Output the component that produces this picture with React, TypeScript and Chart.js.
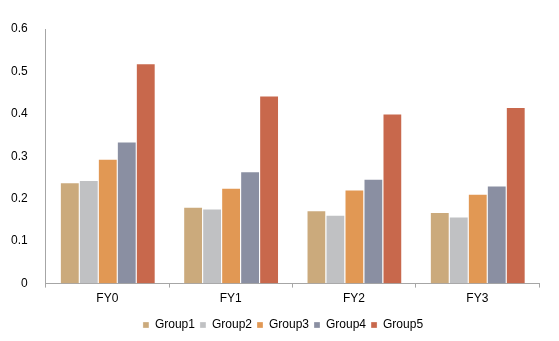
import React, { useEffect, useRef } from "react";
import { Chart, registerables } from "chart.js";

Chart.register(...registerables);

const categories = ["FY0", "FY1", "FY2", "FY3"];
const group1 = [0.239, 0.181, 0.173, 0.169];
const group2 = [0.244, 0.177, 0.162, 0.158];
const group3 = [0.294, 0.226, 0.222, 0.212];
const group4 = [0.335, 0.265, 0.247, 0.231];
const group5 = [0.519, 0.443, 0.401, 0.416];
const seriesNames = ["Group1", "Group2", "Group3", "Group4", "Group5"];
const colors = ["#CBAA7C", "#C0C1C3", "#E19854", "#8A8FA2", "#C8684C"];

const legendShift = {
  id: "legendShift",
  afterLayout(chart: any) {
    const l = chart.legend;
    if (l) {
      l.left += 13;
      l.right += 13;
    }
  },
};

export default function App() {
  const ref = useRef<HTMLCanvasElement>(null);
  useEffect(() => {
    const values = [group1, group2, group3, group4, group5];
    const chart = new Chart(ref.current!, {
      type: "bar",
      data: {
        labels: categories,
        datasets: values.map((v, i) => ({
          label: seriesNames[i],
          data: v,
          backgroundColor: colors[i],
          borderColor: "rgba(255,255,255,0.6)",
          borderWidth: { left: 1, right: 0, top: 1, bottom: 0 } as any,
          categoryPercentage: 0.77,
          barPercentage: 1.0,
        })),
      },
      plugins: [legendShift],
      options: {
        animation: false,
        responsive: false,
        maintainAspectRatio: false,
        layout: { padding: { top: 29, right: 20, left: 1, bottom: 0 } },
        plugins: {
          legend: {
            position: "bottom",
            labels: {
              boxWidth: 6,
              boxHeight: 6,
              padding: 5,
              color: "#000",
              font: { family: "Liberation Sans, Arial", size: 12 },
            },
          },
          tooltip: { enabled: false },
        },
        scales: {
          x: {
            grid: { display: true, drawOnChartArea: false, drawTicks: true, tickLength: 4, color: "#A6A6A6", offset: true },
            border: { display: true, color: "#A6A6A6", width: 1 },
            ticks: { color: "#000", font: { family: "Liberation Sans, Arial", size: 12 }, padding: 4 },
            afterFit: (s: any) => {
              s.height += 4;
            },
          },
          y: {
            min: 0,
            max: 0.6,
            grid: { display: false, drawOnChartArea: false },
            border: { display: true, color: "#A6A6A6", width: 1 },
            ticks: {
              stepSize: 0.1,
              color: "#000",
              padding: 10,
              font: { family: "Liberation Sans, Arial", size: 12 },
              callback: (v: any) => String(Math.round(Number(v) * 10) / 10),
            },
          },
        },
      },
    });
    return () => chart.destroy();
  }, []);
  return (
    <div style={{ position: "absolute", left: 0, top: 0, width: 559, height: 341 }}>
      <canvas ref={ref} width={559} height={341} style={{ width: 559, height: 341 }} />
    </div>
  );
}
